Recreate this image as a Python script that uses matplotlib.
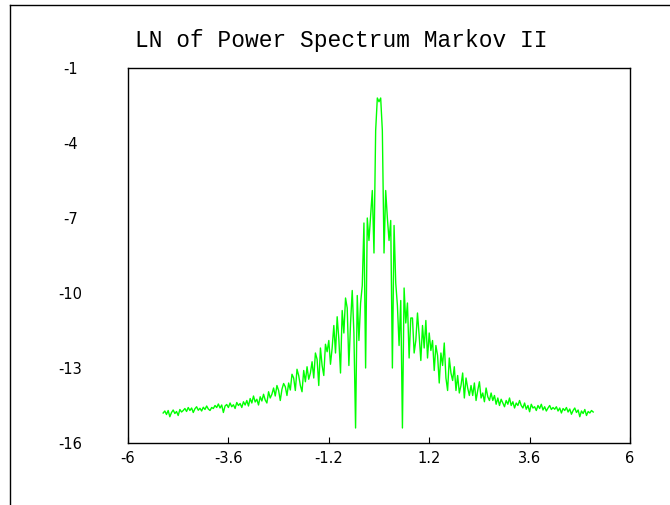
import numpy as np
import matplotlib
matplotlib.use("Agg")
import matplotlib.pyplot as plt
from matplotlib.lines import Line2D

plt.rcParams['axes.unicode_minus'] = False

# log power spectrum, sampled every 0.04 from -5.16 to 5.12
ln_left = [
    -14.80, -14.72, -14.86, -14.70, -14.95, -14.78, -14.68, -14.82, -14.74, -14.90, -14.66, -14.76, -14.70,
    -14.62, -14.74, -14.58, -14.70, -14.60, -14.78, -14.63, -14.55, -14.69, -14.61, -14.72, -14.57, -14.66,
    -14.52, -14.64, -14.70, -14.58,
    -14.62, -14.50, -14.58, -14.44, -14.60, -14.48, -14.78, -14.52, -14.46, -14.58, -14.40, -14.55, -14.47,
    -14.62, -14.38, -14.50, -14.42, -14.58, -14.35, -14.48,
    -14.30, -14.52, -14.22, -14.40, -14.12, -14.36, -14.25, -14.48, -14.15, -14.32, -14.05, -14.28, -14.40,
    -13.95, -14.20, -14.05, -13.80, -14.12, -13.70, -13.90, -14.30, -13.85, -13.62, -13.75, -14.10,
    -13.60, -13.88, -13.25, -13.40, -13.90, -13.05, -13.30, -13.70, -13.95, -13.10, -13.55, -12.95, -13.45,
    -13.20, -12.75, -13.40, -12.40, -12.65, -13.70, -12.20, -12.90, -13.30, -12.05, -12.35,
    -11.90, -12.85, -12.20, -11.30, -12.40, -10.95, -11.85, -13.20, -10.70, -11.60, -10.20,
]
ln_centre = [
    -10.6, -12.9, -11.2, -9.9, -11.6, -15.4, -10.1, -11.9, -10.4, -9.7,
    -7.2, -13.0, -7.0, -7.9, -6.9, -5.9, -8.4, -3.5,
    -2.2, -2.35, -2.2,
    -3.5, -8.4, -5.9, -7.0, -7.9, -7.1, -13.0, -7.3,
    -9.6, -10.5, -12.1, -10.3, -15.4, -9.8, -11.2, -10.4, -12.6, -11.0,
]
ln_right = [
    -11.0, -12.4, -11.9, -10.8, -11.7, -12.7, -11.3, -12.2, -11.1, -12.6,
    -11.6, -12.3, -11.9, -13.1, -12.1, -12.5, -13.6, -12.4, -12.9, -12.0, -13.4, -13.9, -12.6,
    -13.2, -13.5, -12.95, -13.9, -13.3, -14.0, -13.7, -13.2, -14.2, -13.4, -13.8, -14.1,
    -13.7, -14.1, -13.6, -14.3, -13.9, -13.55, -14.2, -14.0, -14.35, -13.8, -14.15, -14.3, -14.0,
    -14.3, -14.1, -14.45, -14.2, -14.5, -14.25, -14.4, -14.55, -14.3, -14.45, -14.2, -14.5, -14.35,
    -14.6, -14.4, -14.5, -14.3,
    -14.5, -14.6, -14.4, -14.65, -14.5, -14.75, -14.45, -14.6, -14.55, -14.7, -14.5, -14.62, -14.45,
    -14.68, -14.55, -14.72, -14.6, -14.5, -14.66, -14.58,
    -14.65, -14.55, -14.72, -14.6, -14.8, -14.62, -14.7, -14.58, -14.76, -14.64, -14.85, -14.7, -14.6,
    -14.78, -14.68, -14.95, -14.72, -14.82, -14.66, -14.9, -14.74, -14.8, -14.7, -14.76,
]
ln_power = ln_left + ln_centre + ln_right
freq = np.linspace(-5.16, 5.12, len(ln_power))

xticks = [-6, -3.6, -1.2, 1.2, 3.6, 6]
xticklabels = ["-6", "-3.6", "-1.2", "1.2", "3.6", "6"]
yticks = [-16, -13, -10, -7, -4, -1]

W, H = 670, 505
fig = plt.figure(figsize=(W / 100, H / 100), dpi=100)
ax = fig.add_axes([128 / W, 1 - 443 / H, 502 / W, 375 / H])

ax.plot(freq, ln_power, color='#00ff00', lw=1.0)

ax.set_xlim(-6, 6)
ax.set_ylim(-16, -1)
ax.set_xticks(xticks)
ax.set_xticklabels(xticklabels)
ax.set_yticks(yticks)
ax.tick_params(axis='x', direction='in', length=4, width=0.8, pad=6, labelsize=10.5)
ax.tick_params(axis='y', length=0, pad=41.5, labelsize=10.5)
for lbl in ax.get_yticklabels():
    lbl.set_horizontalalignment('center')
    lbl.set_verticalalignment('center_baseline')
for s in ax.spines.values():
    s.set_linewidth(1.0)

fig.text(135 / W, 1 - 47 / H, "LN of Power Spectrum Markov II",
         family="Liberation Mono", fontsize=16.5, ha='left', va='baseline')

# outer frame edges
fig.add_artist(Line2D([10 / W, 1], [1 - 5 / H, 1 - 5 / H], color='black', lw=1.0))
fig.add_artist(Line2D([10 / W, 10 / W], [0, 1 - 5 / H], color='black', lw=1.0))

fig.savefig("out.png", dpi=100)
